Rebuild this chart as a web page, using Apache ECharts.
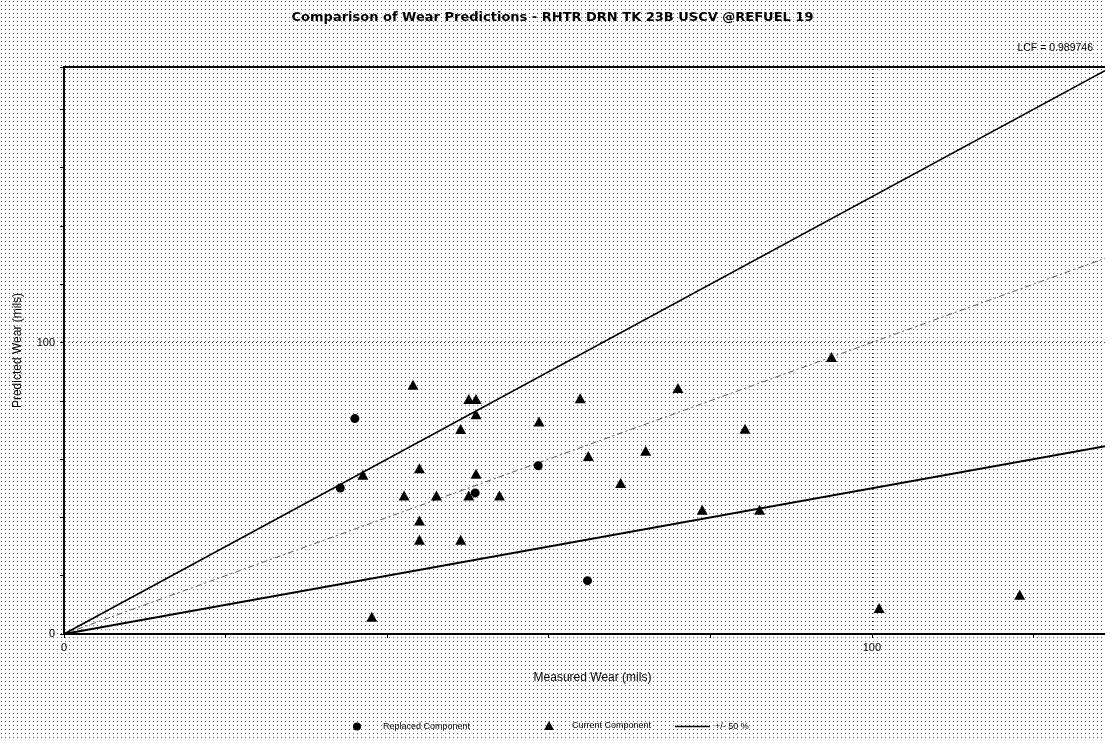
<!DOCTYPE html>
<html>
<head>
<meta charset="utf-8">
<script src="https://cdn.jsdelivr.net/npm/echarts@6/dist/echarts.min.js"></script>
<style>
html,body{margin:0;padding:0;background:#fff;}
#chart{width:1105px;height:738px;}
</style>
</head>
<body>
<div id="chart"></div>
<script>
// ---- data ----
const titleText = 'Comparison of Wear Predictions - RHTR DRN TK 23B USCV @REFUEL 19';
const lcfText = 'LCF = 0.989746';
const xName = 'Measured Wear (mils)';
const yName = 'Predicted Wear (mils)';
const tickLabels = [0, 100];

const replaced = [
  [36.0, 73.9], [34.2, 50.1], [58.7, 57.7], [50.9, 48.4], [64.8, 18.3]
];
const current = [
  [43.2, 85.5], [50.1, 80.6], [51.0, 80.6], [51.0, 75.4], [49.1, 70.3],
  [58.8, 72.9], [37.0, 54.6], [44.0, 56.9], [51.0, 55.0], [42.1, 47.5],
  [46.1, 47.5], [50.1, 47.5], [53.9, 47.5], [44.0, 38.9], [44.0, 32.3],
  [49.1, 32.3], [38.1, 5.9], [63.9, 80.9], [76.0, 84.4], [64.9, 61.1],
  [72.0, 62.9], [68.9, 51.8], [84.3, 70.4], [79.0, 42.6], [86.1, 42.6],
  [95.0, 95.0], [100.9, 8.9], [118.3, 13.5]
];
const upperLine = [[0, 0], [140, 210]];   // +50 %
const lowerLine = [[0, 0], [140, 70]];    // -50 %
const unityLine = [[0, 0], [140, 140]];   // 1:1
const refLines = [100];

// dotted background pattern
const pc = document.createElement('canvas');
pc.width = 4; pc.height = 4;
const pctx = pc.getContext('2d');
pctx.fillStyle = '#ffffff'; pctx.fillRect(0, 0, 4, 4);
pctx.fillStyle = '#5a5a5a'; pctx.fillRect(1, 1, 1, 1);

const chart = echarts.init(document.getElementById('chart'), null, {renderer: 'canvas'});
const font = 'Liberation Sans, Arial, sans-serif';

const option = {
  animation: false,
  backgroundColor: {image: pc, repeat: 'repeat'},
  textStyle: {fontFamily: font, color: '#000'},
  title: [
    {text: titleText, left: 'center', top: 6,
     textStyle: {fontFamily: 'DejaVu Sans', fontSize: 13, fontWeight: 'bold', color: '#000'}},
    {text: lcfText, right: 7, top: 38,
     textStyle: {fontFamily: font, fontSize: 10.5, fontWeight: 'normal', color: '#000'}}
  ],
  grid: {left: 64, top: 67, width: 1047, height: 567, show: true,
         outerBoundsMode: 'none', containLabel: false,
         borderColor: '#000', borderWidth: 2, backgroundColor: 'transparent'},
  legend: [
    {data: ['Replaced Component'], left: 353, top: 722, padding: 0, itemWidth: 8, itemHeight: 8,
     icon: 'circle', textStyle: {fontSize: 9, color: '#000', fontFamily: font, padding: [0, 0, 0, 17]}},
    {data: ['Current Component'], left: 544, top: 721, padding: 0, itemWidth: 10, itemHeight: 9,
     icon: 'triangle', textStyle: {fontSize: 9, color: '#000', fontFamily: font, padding: [0, 0, 0, 13]}},
    {data: [{name: '+/- 50 %', icon: 'rect'}], left: 675, top: 722, padding: 0, itemWidth: 35, itemHeight: 1.5,
     textStyle: {fontSize: 9, color: '#000', fontFamily: font}}
  ],
  xAxis: {
    type: 'value', min: 0, max: 129.6, interval: 20,
    name: xName, nameLocation: 'middle', nameGap: 38,
    nameTextStyle: {fontSize: 12, fontFamily: font, color: '#000', padding: [0, 0, 0, 10]},
    axisLine: {show: true, lineStyle: {color: '#000', width: 2}},
    axisTick: {show: true, length: 4, lineStyle: {color: '#000'}},
    axisLabel: {fontSize: 11, color: '#000', margin: 8,
      formatter: v => tickLabels.indexOf(v) >= 0 ? String(v) : ''},
    splitLine: {show: false}
  },
  yAxis: {
    type: 'value', min: 0, max: 194.5, interval: 20,
    name: yName, nameLocation: 'middle', nameGap: 40,
    nameTextStyle: {fontSize: 12, fontFamily: font, color: '#000'},
    axisLine: {show: true, lineStyle: {color: '#000', width: 2}},
    axisTick: {show: true, length: 4, lineStyle: {color: '#000'}},
    axisLabel: {fontSize: 11, color: '#000', margin: 9,
      formatter: v => tickLabels.indexOf(v) >= 0 ? String(v) : ''},
    splitLine: {show: false}
  },
  series: [
    {name: '1:1', type: 'line', data: unityLine, symbol: 'none', clip: true,
     lineStyle: {color: '#555', width: 1, type: [6, 3, 2, 3]}, z: 2,
     markLine: {silent: true, symbol: 'none', label: {show: false},
       lineStyle: {color: '#333', width: 1, type: [1, 3]},
       data: refLines.map(v => ({xAxis: v})).concat(refLines.map(v => ({yAxis: v})))}},
    {name: '+/- 50 %', type: 'line', data: upperLine, symbol: 'none', clip: true,
     lineStyle: {color: '#000', width: 1.6}, itemStyle: {color: '#000'}, z: 3},
    {name: '-50 %', type: 'line', data: lowerLine, symbol: 'none', clip: true,
     lineStyle: {color: '#000', width: 2}, itemStyle: {color: '#000'}, z: 3},
    {name: 'Replaced Component', type: 'scatter', data: replaced, symbol: 'circle',
     symbolSize: 9, itemStyle: {color: '#000', opacity: 1}, z: 5},
    {name: 'Current Component', type: 'scatter', data: current, symbol: 'triangle',
     symbolSize: [11, 10], itemStyle: {color: '#000', opacity: 1}, z: 5}
  ]
};
chart.setOption(option);
</script>
</body>
</html>
